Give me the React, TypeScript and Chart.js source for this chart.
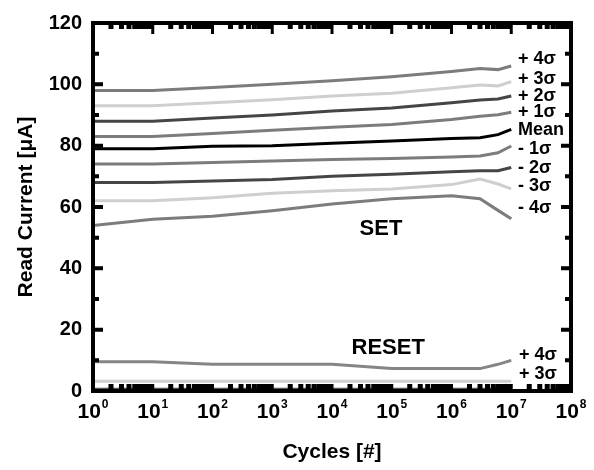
import React, { useEffect, useRef } from "react";
import { Chart, registerables } from "chart.js";

Chart.register(...registerables);

// ---- data ----
const cycles = [1, 10, 100, 1000, 1e4, 1e5, 1e6, 3e6, 6e6, 1e7];

const setPlus4 = [98, 98, 99, 100, 101.2, 102.5, 104.2, 105.2, 104.8, 106];
const setPlus3 = [93, 93, 94, 95, 96.2, 97.1, 98.9, 99.8, 99.5, 100.9];
const setPlus2 = [88, 88, 89, 90, 91.3, 92.3, 94, 94.9, 95.2, 96.2];
const setPlus1 = [83, 83, 84, 85, 86, 86.9, 88.5, 89.6, 90.1, 90.9];
const setMean = [79, 79, 79.8, 80, 80.8, 81.5, 82.3, 82.6, 83.6, 85.3];
const setMinus1 = [74, 74, 74.5, 75, 75.5, 75.8, 76.3, 76.6, 77.7, 79.9];
const setMinus2 = [68, 68, 68.5, 69, 70, 70.7, 71.5, 71.8, 71.8, 72.9];
const setMinus3 = [62, 62, 63, 64.5, 65.3, 65.9, 67.3, 69.1, 67.5, 65.9];
const setMinus4 = [54, 56, 57, 58.8, 61, 62.7, 63.7, 62.7, 58.9, 56.2];

const resetPlus4 = [9.5, 9.5, 8.7, 8.7, 8.7, 7.3, 7.3, 7.3, 8.7, 10];
const resetPlus3 = [3.2, 3.2, 3.2, 3.2, 3.2, 3.2, 3.2, 3.2, 3.2, 3.2];
const resetLowCycles = [1, 1e6, 5e6, 8e6, 1e7];
const resetLow = [0.6, 0.6, 0.6, 1.8, 0.6];

const xTickExponents = [0, 1, 2, 3, 4, 5, 6, 7, 8];
const yTickValues = [0, 20, 40, 60, 80, 100, 120];
const yMinorValues = [10, 30, 50, 70, 90, 110];

const setLabels = ["+ 4σ", "+ 3σ", "+ 2σ", "+ 1σ", "Mean", "- 1σ", "- 2σ", "- 3σ", "- 4σ"];
const setLabelY = [108.1, 101.7, 96.3, 90.9, 85.2, 78.8, 72.8, 67.0, 59.6];
const resetLabels = ["+ 4σ", "+ 3σ"];
const resetLabelY = [11.6, 5.5];

const FONT = "'Liberation Sans', Arial, Helvetica, sans-serif";

const colors = {
  mid: "#7c7c7c",
  light: "#cfcfcf",
  dark: "#454545",
  black: "#000000",
};

function series(label: string, xs: number[], ys: number[], color: string) {
  return {
    label,
    data: xs.map((x, i) => ({ x, y: ys[i] })),
    borderColor: color,
    backgroundColor: color,
    borderWidth: 3,
    pointRadius: 0,
    tension: 0,
    fill: false,
  };
}

const decorPlugin = {
  id: "decor",
  afterDatasetsDraw(chart: any) {
    const { ctx, chartArea } = chart;
    const xs = chart.scales.x;
    const ys = chart.scales.y;
    const { left, right, top, bottom } = chartArea;
    ctx.save();
    ctx.strokeStyle = "#000";
    ctx.lineCap = "butt";

    // inner ticks - y
    const drawY = (v: number, len: number, w: number) => {
      const y = ys.getPixelForValue(v);
      ctx.lineWidth = w;
      ctx.beginPath();
      ctx.moveTo(left, y);
      ctx.lineTo(left + len, y);
      ctx.moveTo(right, y);
      ctx.lineTo(right - len, y);
      ctx.stroke();
    };
    yTickValues.forEach((v) => drawY(v, 10, 4));
    yMinorValues.forEach((v) => drawY(v, 6, 4));

    // inner ticks - x (log)
    for (let e = 0; e < 8; e++) {
      for (let m = 2; m <= 9; m++) {
        const x = xs.getPixelForValue(m * Math.pow(10, e));
        ctx.lineWidth = 5;
        ctx.beginPath();
        ctx.moveTo(x, bottom);
        ctx.lineTo(x, bottom - 7);
        ctx.moveTo(x, top);
        ctx.lineTo(x, top + 6);
        ctx.stroke();
      }
    }
    xTickExponents.forEach((e) => {
      const x = xs.getPixelForValue(Math.pow(10, e));
      ctx.lineWidth = 3;
      ctx.beginPath();
      ctx.moveTo(x, top);
      ctx.lineTo(x, top + 11);
      ctx.moveTo(x, bottom);
      ctx.lineTo(x, bottom - 7);
      ctx.stroke();
    });

    // frame
    ctx.lineWidth = 4;
    ctx.strokeRect(left, top, right - left, bottom - top);

    // x tick labels 10^n
    ctx.fillStyle = "#000";
    ctx.textBaseline = "alphabetic";
    ctx.textAlign = "left";
    xTickExponents.forEach((e) => {
      const x = xs.getPixelForValue(Math.pow(10, e));
      ctx.font = `bold 21px ${FONT}`;
      const base = "10";
      const wb = ctx.measureText(base).width;
      ctx.font = `bold 12px ${FONT}`;
      const sup = String(e);
      const ws = ctx.measureText(sup).width;
      const start = x - (wb + ws + 1) / 2;
      ctx.font = `bold 21px ${FONT}`;
      ctx.fillText(base, start, bottom + 27);
      ctx.font = `bold 12px ${FONT}`;
      ctx.fillText(sup, start + wb + 1, bottom + 17);
    });

    // series labels
    ctx.font = `bold 18px ${FONT}`;
    ctx.textBaseline = "middle";
    ctx.textAlign = "left";
    const labelX = xs.getPixelForValue(1.3e7);
    setLabels.forEach((t, i) => {
      ctx.fillText(t, labelX, ys.getPixelForValue(setLabelY[i]));
    });
    const resetX = xs.getPixelForValue(1.35e7);
    resetLabels.forEach((t, i) => {
      ctx.fillText(t, resetX, ys.getPixelForValue(resetLabelY[i]));
    });

    ctx.font = `bold 22px ${FONT}`;
    ctx.textAlign = "center";
    ctx.fillText("SET", xs.getPixelForValue(Math.pow(10, 4.82)), ys.getPixelForValue(52.7));
    ctx.fillText("RESET", xs.getPixelForValue(Math.pow(10, 4.94)), ys.getPixelForValue(13.9));
    ctx.restore();
  },
};

export default function App() {
  const ref = useRef<HTMLCanvasElement | null>(null);
  useEffect(() => {
    if (!ref.current) return;
    const chart = new Chart(ref.current, {
      type: "line",
      data: {
        datasets: [
          series("+4σ", cycles, setPlus4, colors.mid),
          series("+3σ", cycles, setPlus3, colors.light),
          series("+2σ", cycles, setPlus2, colors.dark),
          series("+1σ", cycles, setPlus1, colors.mid),
          series("Mean", cycles, setMean, colors.black),
          series("-1σ", cycles, setMinus1, colors.mid),
          series("-2σ", cycles, setMinus2, colors.dark),
          series("-3σ", cycles, setMinus3, colors.light),
          series("-4σ", cycles, setMinus4, colors.mid),
          series("RESET +4σ", cycles, resetPlus4, "#858585"),
          series("RESET +3σ", cycles, resetPlus3, colors.light),
          series("RESET low", resetLowCycles, resetLow, "#555555"),
        ],
      },
      options: {
        responsive: false,
        animation: false,
        layout: { padding: { top: 20, right: 23, left: 0, bottom: 0 } },
        plugins: { legend: { display: false }, tooltip: { enabled: false } },
        scales: {
          x: {
            type: "logarithmic",
            min: 1,
            max: 1e8,
            grid: { display: false, drawTicks: false },
            border: { display: false },
            ticks: { display: false },
            afterFit: (s: any) => {
              s.height = 79;
            },
            title: {
              display: true,
              text: "Cycles [#]",
              color: "#000",
              font: { family: FONT, size: 21, weight: "bold" },
              padding: { top: 0, bottom: 5 },
            },
          },
          y: {
            type: "linear",
            min: 0,
            max: 120,
            grid: { display: false, drawTicks: false },
            border: { display: false },
            ticks: {
              stepSize: 20,
              padding: 11,
              color: "#000",
              font: { family: FONT, size: 20, weight: "bold" },
            },
            afterFit: (s: any) => {
              s.width = 93;
            },
            title: {
              display: true,
              text: "Read Current [μA]",
              color: "#000",
              font: { family: FONT, size: 21, weight: "bold" },
              padding: { top: 14, bottom: 0 },
            },
          },
        },
      },
      plugins: [decorPlugin],
    });
    return () => chart.destroy();
  }, []);
  return (
    <div style={{ position: "absolute", left: 0, top: 0, width: 594, height: 470, background: "#fff" }}>
      <canvas ref={ref} width={594} height={470} style={{ display: "block" }} />
    </div>
  );
}
